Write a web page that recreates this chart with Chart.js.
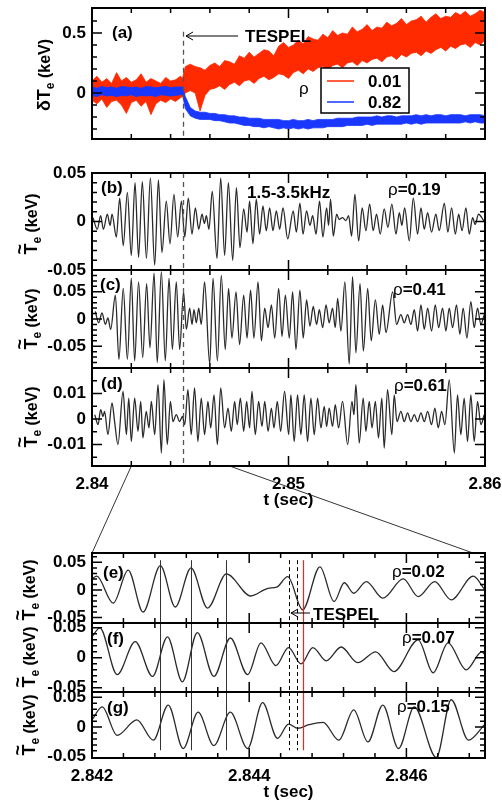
<!DOCTYPE html>
<html>
<head>
<meta charset="utf-8">
<script src="https://cdn.jsdelivr.net/npm/chart.js@4.4.1/dist/chart.umd.min.js"></script>
<style>
  body { margin: 0; background: #fff; }
  #fig { position: relative; width: 502px; height: 805px; overflow: hidden; background: #fff; }
  #fig canvas { position: absolute; left: 0; }
</style>
</head>
<body>
<div id="fig"></div>
<script>
// ---- time bases (ms after 2.840 s for a-d, after 2.842 s for e-g) ----
var aMs = [0,0.25,0.5,0.75,1,1.25,1.5,1.75,2,2.25,2.5,2.75,3,3.25,3.5,3.75,4,4.25,4.5,4.6,4.75,
  5,5.25,5.5,5.75,6,6.25,6.5,6.75,7,7.25,7.5,7.75,8,8.25,8.5,8.75,9,9.25,9.5,9.75,10,10.25,10.5,10.75,
  11,11.25,11.5,11.75,12,12.25,12.5,12.75,13,13.25,13.5,13.75,14,14.25,14.5,14.75,15,15.25,15.5,15.75,
  16,16.25,16.5,16.75,17,17.25,17.5,17.75,18,18.25,18.5,18.75,19,19.25,19.5,19.75,20];

// (a) noise band envelopes, rho = 0.01 (red) and rho = 0.82 (blue)
var redHi = [0.10,0.14,0.09,0.12,0.08,0.17,0.10,0.13,0.09,0.11,0.16,0.09,0.12,0.10,0.08,0.13,0.10,0.11,0.14,0.12,0.22,
  0.24,0.22,0.21,0.19,0.23,0.25,0.22,0.27,0.26,0.24,
  0.31,0.29,0.34,0.30,0.33,0.36,0.35,0.31,0.39,0.42,
  0.38,0.40,0.44,0.41,0.47,0.45,0.44,0.49,0.46,0.52,
  0.48,0.50,0.49,0.55,0.51,0.53,0.57,0.52,0.55,0.54,
  0.59,0.56,0.58,0.62,0.57,0.60,0.61,0.64,0.59,0.63,
  0.66,0.62,0.64,0.63,0.67,0.65,0.68,0.64,0.66,0.69,0.67];
var redLo = [-0.06,-0.09,-0.05,-0.12,-0.07,-0.06,-0.10,-0.17,-0.08,-0.06,-0.11,-0.07,-0.18,-0.09,-0.06,-0.08,-0.05,-0.07,-0.04,-0.03,0.0,
  0.02,0.0,-0.15,-0.02,0.03,0.04,0.06,0.03,0.07,0.09,
  0.06,0.10,0.11,0.08,0.12,0.14,0.11,0.13,0.16,0.15,
  0.12,0.17,0.19,0.16,0.20,0.18,0.21,0.22,0.19,0.23,
  0.24,0.21,0.25,0.26,0.23,0.27,0.25,0.28,0.29,0.26,
  0.30,0.31,0.28,0.32,0.30,0.33,0.34,0.31,0.35,0.33,
  0.36,0.38,0.35,0.39,0.37,0.40,0.41,0.38,0.42,0.40,0.44];
var blueHi = [0.05,0.04,0.055,0.045,0.05,0.04,0.055,0.05,0.045,0.05,0.04,0.055,0.05,0.045,0.05,0.055,0.045,0.05,0.05,0.05,-0.03,
  -0.12,-0.15,-0.16,-0.16,-0.17,-0.17,-0.18,-0.18,-0.19,-0.19,-0.2,-0.2,-0.21,-0.21,-0.21,-0.22,-0.22,-0.22,-0.22,-0.23,
  -0.23,-0.22,-0.23,-0.23,-0.22,-0.23,-0.22,-0.22,-0.22,-0.22,-0.21,-0.21,-0.21,-0.21,-0.2,-0.2,-0.2,-0.2,-0.19,-0.2,
  -0.19,-0.19,-0.2,-0.19,-0.19,-0.19,-0.18,-0.19,-0.18,-0.19,-0.18,-0.18,-0.19,-0.18,-0.18,-0.18,-0.19,-0.18,-0.18,-0.18,-0.19];
var blueLo = [-0.02,-0.03,-0.015,-0.025,-0.02,-0.03,-0.02,-0.025,-0.015,-0.03,-0.02,-0.025,-0.02,-0.03,-0.015,-0.02,-0.025,-0.02,-0.015,-0.01,-0.13,
  -0.19,-0.21,-0.22,-0.22,-0.22,-0.23,-0.23,-0.24,-0.25,-0.25,-0.26,-0.27,-0.27,-0.28,-0.28,-0.29,-0.28,-0.29,-0.30,-0.29,
  -0.30,-0.29,-0.30,-0.29,-0.30,-0.29,-0.29,-0.29,-0.28,-0.28,-0.28,-0.28,-0.27,-0.27,-0.27,-0.27,-0.26,-0.27,-0.26,-0.26,
  -0.26,-0.26,-0.26,-0.26,-0.25,-0.26,-0.25,-0.26,-0.25,-0.25,-0.25,-0.25,-0.25,-0.25,-0.25,-0.25,-0.24,-0.25,-0.24,-0.25,-0.25];
var legendNames = ['0.01', '0.82'];

// (b) rho = 0.19, turning points
var bMs = [0.05,0.27,0.44,0.58,0.78,0.92,1.02,1.24,1.41,1.59,1.80,2.00,2.19,2.37,2.56,2.77,2.97,3.19,3.38,3.56,
  3.78,3.97,4.17,4.36,4.55,4.72,4.90,5.09,5.26,5.43,5.60,5.72,5.82,5.95,6.12,6.36,6.55,6.75,6.94,7.16,
  7.35,7.53,7.72,7.89,8.02,8.19,8.36,8.53,8.70,8.87,9.04,9.21,9.38,9.55,9.72,9.96,10.24,10.40,10.58,10.74,
  10.92,11.09,11.23,11.40,11.58,11.75,11.94,12.04,12.14,12.28,12.45,12.58,12.75,12.92,13.06,13.21,13.38,13.57,13.75,13.94,
  14.13,14.31,14.48,14.67,14.87,15.06,15.26,15.47,15.64,15.77,15.91,16.15,16.35,16.57,16.74,16.91,17.08,17.28,17.50,17.67,
  17.93,18.11,18.30,18.49,18.66,18.83,19.03,19.20,19.37,19.50,19.67,19.96];
var bVal = [0.004,-0.008,0.006,-0.008,0.0075,-0.004,0.0075,-0.016,0.024,-0.025,0.03,-0.035,0.04,-0.037,0.041,-0.038,0.045,-0.045,0.043,-0.032,
  0.021,-0.023,0.028,-0.016,0.021,-0.016,0.024,-0.013,0.014,-0.008,0.0075,-0.002,0.006,-0.008,0.031,-0.038,0.045,-0.035,0.04,-0.04,
  0.035,-0.027,0.013,-0.011,0.021,-0.023,0.023,-0.013,0.016,-0.0095,0.014,-0.0095,0.011,-0.008,0.014,-0.018,0.011,-0.011,0.019,-0.013,
  0.011,-0.004,0.006,-0.013,0.021,-0.016,0.014,-0.004,0.023,-0.015,0.0075,0.002,0.004,0.001,0.006,-0.015,0.028,-0.02,0.014,-0.0095,
  0.018,-0.0095,0.0075,-0.013,0.013,-0.006,0.018,-0.013,0.009,-0.004,0.014,-0.02,0.024,-0.013,0.014,-0.008,0.009,-0.011,0.0075,-0.0095,
  0.019,-0.011,0.014,-0.013,0.0075,-0.0095,0.014,-0.013,0.004,-0.003,0.0075,0.0];

// (c) rho = 0.41
var cMs = [0.17,0.34,0.51,0.68,0.81,0.95,1.19,1.37,1.59,1.80,2.00,2.17,2.37,2.58,2.78,2.95,3.16,3.32,3.53,3.73,
  3.92,4.09,4.29,4.46,4.66,4.80,4.97,5.09,5.19,5.31,5.43,5.56,5.73,5.99,6.16,6.38,6.58,6.78,6.95,7.12,
  7.33,7.51,7.72,7.89,8.07,8.24,8.45,8.62,8.79,8.96,9.13,9.30,9.50,9.67,9.84,10.04,10.21,10.38,10.58,10.75,
  10.92,11.09,11.26,11.43,11.57,11.74,11.91,12.07,12.24,12.38,12.50,12.67,12.87,13.09,13.26,13.43,13.64,13.81,14.03,14.21,
  14.42,14.62,14.79,14.96,15.30,15.50,15.72,15.89,16.06,16.23,16.40,16.57,16.74,16.91,17.08,17.28,17.47,17.64,17.84,18.01,
  18.18,18.35,18.55,18.72,18.89,19.08,19.28,19.45,19.62,19.79,19.96];
var cVal = [0.014,-0.007,0.011,-0.01,0.002,-0.019,0.044,-0.074,0.056,-0.074,0.075,-0.077,0.068,-0.071,0.065,-0.053,0.084,-0.08,0.087,-0.077,
  0.075,-0.056,0.068,-0.056,0.05,-0.019,0.02,-0.01,0.017,-0.007,0.02,-0.01,0.068,-0.083,0.075,-0.077,0.08,-0.056,0.056,-0.035,
  0.05,-0.047,0.044,-0.035,0.053,-0.035,0.068,-0.04,0.02,-0.016,0.026,-0.035,0.056,-0.032,0.044,-0.035,0.05,-0.056,0.053,-0.035,
  0.035,-0.013,0.023,-0.01,0.017,-0.016,0.026,-0.007,0.02,-0.016,0.038,-0.022,0.068,-0.083,0.078,-0.062,0.065,-0.059,0.056,-0.04,
  0.035,-0.028,0.026,-0.025,0.05,-0.01,0.008,-0.007,0.008,-0.01,0.017,-0.022,0.026,-0.019,0.02,-0.022,0.026,-0.016,0.02,-0.022,
  0.02,-0.016,0.026,-0.028,0.02,-0.035,0.032,-0.016,0.02,-0.01,0.008];

// (d) rho = 0.61
var dMs = [0.14,0.31,0.44,0.56,0.64,0.81,1.02,1.15,1.32,1.58,1.75,1.87,2.00,2.17,2.34,2.48,2.59,2.76,2.90,3.02,
  3.19,3.36,3.53,3.66,3.83,3.99,4.12,4.29,4.46,4.60,4.72,4.88,5.05,5.22,5.39,5.56,5.73,5.90,6.04,6.21,
  6.38,6.55,6.75,6.92,7.09,7.26,7.39,7.55,7.72,7.87,8.02,8.14,8.31,8.48,8.65,8.79,8.96,9.13,9.26,9.43,
  9.60,9.80,10.01,10.12,10.29,10.46,10.63,10.80,10.97,11.14,11.31,11.48,11.65,11.82,11.94,12.07,12.24,12.38,12.55,12.75,
  13.01,13.23,13.33,13.43,13.60,13.80,13.94,14.11,14.25,14.42,14.58,14.75,14.87,15.04,15.26,15.38,15.52,15.72,15.89,16.06,
  16.23,16.40,16.57,16.74,16.91,17.08,17.28,17.45,17.62,17.79,17.96,18.18,18.44,18.60,18.77,18.94,19.11,19.28,19.45,19.62,19.79,19.96];
var dVal = [0.0017,-0.0022,0.0037,0.001,0.003,-0.0061,0.0063,-0.001,-0.01,0.0108,-0.0061,0.0082,-0.0088,0.0082,-0.0048,0.0069,-0.0074,0.003,-0.0035,0.0069,
  -0.0061,0.0135,-0.0133,0.0154,-0.01,0.0069,-0.001,0.0017,-0.001,0.001,-0.0022,0.0115,-0.0061,0.0122,-0.0088,0.0082,-0.0061,0.0069,-0.0035,0.0095,
  -0.01,0.0122,-0.0035,0.0043,-0.0048,0.0069,-0.0022,0.0082,-0.0048,0.0069,-0.0035,0.0108,-0.0061,0.0069,-0.0029,0.0069,-0.0048,0.0043,-0.0035,0.0069,
  -0.0048,0.0108,-0.0061,0.0095,-0.0088,0.0095,-0.0061,0.0095,-0.0088,0.0082,-0.0061,0.0082,-0.0035,0.005,-0.0029,0.0043,-0.0029,0.0056,-0.0035,0.0069,
  -0.01,0.0069,0.0017,0.0135,-0.0094,0.0082,-0.0048,0.0069,-0.0035,0.0069,-0.0074,0.0082,-0.0114,0.0115,-0.0061,0.0095,-0.001,0.003,-0.001,0.0024,
  -0.001,0.0017,-0.001,0.0024,-0.001,0.003,-0.0022,0.0043,-0.0035,0.003,-0.0022,0.0153,-0.0133,0.0095,-0.0061,0.0082,-0.0088,0.0095,-0.0088,0.0069,-0.0022,0.0017];

// (e) rho = 0.02, (f) rho = 0.07, (g) rho = 0.15 on the expanded window
var eMs = [0,0.06,0.27,0.46,0.65,0.87,1.06,1.26,1.47,1.71,2.02,2.24,2.35,2.49,2.68,2.90,3.08,3.21,3.33,3.49,3.70,3.96,4.15,4.36,4.57,4.85,5.0];
var eVal = [0.02,0.025,-0.024,0.036,-0.04,0.044,-0.031,0.04,-0.033,0.029,-0.011,0.003,0.005,0.024,-0.036,0.042,-0.021,0.013,-0.006,0.015,-0.015,0.02,-0.012,0.015,-0.018,0.025,0.0];
var fMs = [0,0.1,0.32,0.55,0.77,0.96,1.15,1.34,1.55,1.76,1.98,2.15,2.34,2.50,2.66,2.81,2.98,3.17,3.38,3.61,3.84,4.15,4.34,4.53,4.76,4.96,5.0];
var fVal = [0.035,0.05,-0.028,0.027,-0.031,0.035,-0.04,0.042,-0.031,0.033,-0.028,0.025,-0.013,0.017,-0.01,0.017,-0.005,0.018,-0.008,0.01,-0.023,0.03,-0.025,0.025,-0.02,0.01,0.005];
var gMs = [0,0.13,0.32,0.57,0.78,0.97,1.16,1.35,1.55,1.76,1.98,2.17,2.36,2.50,2.62,2.76,2.94,3.14,3.33,3.51,3.70,3.90,4.10,4.38,4.57,4.79,5.0];
var gVal = [0.012,0.034,-0.014,0.012,-0.022,0.037,-0.036,0.025,-0.031,0.025,-0.036,0.041,-0.019,0.005,-0.002,0.004,0.008,-0.022,0.029,-0.025,0.037,-0.036,0.034,-0.051,0.046,-0.022,0.005];

// ---- axes ----
var longTicks = [2.84,2.842,2.844,2.846,2.848,2.85,2.852,2.854,2.856,2.858,2.86];
var longLabels = [[2.84,'2.84'],[2.85,'2.85'],[2.86,'2.86']];
var zoomTicks = [2.842,2.8424,2.8428,2.8432,2.8436,2.844,2.8444,2.8448,2.8452,2.8456,2.846,2.8464,2.8468];
var zoomLabels = [[2.842,'2.842'],[2.844,'2.844'],[2.846,'2.846']];
var zoomRange = [2.842, 2.847];
var tespelTime = 2.84463;
// event markers on the expanded window
var peakTimes = [2.84287, 2.84326, 2.84371];
var dashTimes = [2.8445, 2.84461];
var redTime = 2.84469;

var FONT = '"Liberation Sans", Arial, Helvetica, sans-serif';
var B17 = 'bold 17px ' + FONT;
var R17 = '17px ' + FONT;

function pts(ms, vals, t0) {
  return ms.map(function (m, i) { return { x: t0 + m / 1000, y: vals[i] }; });
}
function steps(from, to, step) {
  var out = [];
  for (var k = Math.round(from / step); k <= Math.round(to / step); k++) out.push(+(k * step).toFixed(4));
  return out;
}
function labelOf(list, v) {
  if (!list) return '';
  for (var i = 0; i < list.length; i++) if (Math.abs(list[i][0] - v) < 1e-7) return list[i][1];
  return '';
}

function drawParts(ctx, parts, x, y) {
  var cx = x;
  parts.forEach(function (p) {
    ctx.font = p.f;
    ctx.fillText(p.s, cx, y + (p.dy || 0));
    cx += ctx.measureText(p.s).width;
  });
}

// rotated axis title: lead letters, subscript e, then (keV)
function drawYTitle(ctx, t, top) {
  var big = 'bold 18px ' + FONT, sub = 'bold 12px ' + FONT, rest = 'bold 16px ' + FONT;
  ctx.save();
  ctx.translate(t.x, t.y - top);
  ctx.rotate(-Math.PI / 2);
  ctx.fillStyle = '#000';
  ctx.font = big; var w1 = ctx.measureText(t.lead).width;
  ctx.font = sub; var w2 = ctx.measureText('e').width;
  ctx.font = rest; var w3 = ctx.measureText(' (keV)').width;
  var x0 = -(w1 + w2 + w3) / 2;
  ctx.font = big; ctx.fillText(t.lead, x0, 0);
  if (t.tilde) {
    ctx.font = big;
    var wT = ctx.measureText('T').width;
    ctx.textAlign = 'center';
    ctx.fillText('~', x0 + w1 - wT / 2, -11);
    ctx.textAlign = 'left';
  }
  ctx.font = sub; ctx.fillText('e', x0 + w1, 4);
  ctx.font = rest; ctx.fillText(' (keV)', x0 + w1 + w2, 0);
  ctx.restore();
}

function arrowLeft(ctx, x1, x2, y) {
  ctx.beginPath();
  ctx.moveTo(x1, y); ctx.lineTo(x2, y);
  ctx.moveTo(x2 + 7, y - 4); ctx.lineTo(x2, y); ctx.lineTo(x2 + 7, y + 4);
  ctx.stroke();
}

var deco = {
  id: 'deco',
  afterDatasetsDraw: function (chart, args, o) {
    var ctx = chart.ctx, a = chart.chartArea, xs = chart.scales.x, ys = chart.scales.y;
    var top = o.canvasTop;
    ctx.save();

    // vertical markers
    (o.vlines || []).forEach(function (l) {
      var px = Math.round(xs.getPixelForValue(l.t)) + 0.5;
      var y0 = l.from != null ? ys.getPixelForValue(l.from) : a.top;
      var y1 = l.to != null ? ys.getPixelForValue(l.to) : a.bottom;
      ctx.beginPath();
      ctx.setLineDash(l.dash || []);
      ctx.strokeStyle = l.color;
      ctx.lineWidth = l.width || 1;
      ctx.moveTo(px, y0); ctx.lineTo(px, y1);
      ctx.stroke();
    });
    ctx.setLineDash([]);

    // frame with inward ticks on all four sides
    ctx.strokeStyle = '#000';
    ctx.lineWidth = 2;
    ctx.strokeRect(a.left, a.top, a.right - a.left, a.bottom - a.top);
    ctx.lineWidth = 1.5;
    ctx.beginPath();
    o.xTicks.forEach(function (v) {
      var px = xs.getPixelForValue(v);
      if (px < a.left + 2 || px > a.right - 2) return;
      var len = labelOf(o.xLabels, v) ? 10 : 5;
      ctx.moveTo(px, a.bottom); ctx.lineTo(px, a.bottom - len);
      ctx.moveTo(px, a.top); ctx.lineTo(px, a.top + len);
    });
    o.yTicks.forEach(function (v) {
      var py = ys.getPixelForValue(v);
      if (py < a.top + 2 || py > a.bottom - 2) return;
      var len = labelOf(o.yLabels, v) ? 10 : 5;
      ctx.moveTo(a.left, py); ctx.lineTo(a.left + len, py);
      ctx.moveTo(a.right, py); ctx.lineTo(a.right - len, py);
    });
    ctx.stroke();

    // texts
    ctx.fillStyle = '#000';
    ctx.textBaseline = 'alphabetic';
    (o.texts || []).forEach(function (t) { drawParts(ctx, t.parts, t.x, t.y - top); });
    if (o.yTitle) drawYTitle(ctx, o.yTitle, top);

    // arrows
    ctx.strokeStyle = '#000';
    ctx.lineWidth = 1;
    (o.arrows || []).forEach(function (r) { arrowLeft(ctx, r.x1, r.x2, r.y - top); });

    // legend box
    if (o.legend) {
      var L = o.legend, ly = L.y - top;
      ctx.fillStyle = '#fff';
      ctx.fillRect(L.x, ly, L.w, L.h);
      ctx.strokeStyle = '#000';
      ctx.lineWidth = 1.5;
      ctx.strokeRect(L.x, ly, L.w, L.h);
      L.items.forEach(function (it, i) {
        var yy = ly + 13 + i * 21;
        ctx.strokeStyle = it.color;
        ctx.lineWidth = 1.5;
        ctx.beginPath(); ctx.moveTo(L.x + 6, yy); ctx.lineTo(L.x + 33, yy); ctx.stroke();
        ctx.fillStyle = '#000';
        ctx.font = B17;
        ctx.fillText(it.name, L.x + 47, yy + 6);
      });
    }
    ctx.restore();
  }
};

var fig = document.getElementById('fig');
var charts = {};

function makePanel(p) {
  var padTop = p.padTop != null ? p.padTop : 14;
  var axisH = p.showX ? 48 : 0;
  var padBottom = p.showX ? 0 : 14;
  var canvasTop = p.top - padTop;
  var cv = document.createElement('canvas');
  cv.width = 502;
  cv.height = p.bottom - p.top + padTop + axisH + padBottom;
  cv.style.top = canvasTop + 'px';
  fig.appendChild(cv);
  p.canvasTop = canvasTop;

  var tickFont = { family: FONT, size: 17, weight: 'bold' };
  charts[p.key] = new Chart(cv.getContext('2d'), {
    type: 'line',
    data: { datasets: p.datasets },
    options: {
      responsive: false,
      animation: false,
      events: [],
      layout: { padding: { top: padTop, left: 0, right: 17, bottom: padBottom } },
      elements: { point: { radius: 0 } },
      plugins: { legend: { display: false }, tooltip: { enabled: false }, deco: p },
      scales: {
        x: {
          type: 'linear', min: p.xRange[0], max: p.xRange[1], bounds: 'data',
          display: !!p.showX,
          grid: { display: false, drawTicks: false }, border: { display: false },
          ticks: { autoSkip: false, maxRotation: 0, padding: 8, color: '#000', font: tickFont,
            callback: function (v) { return labelOf(p.xLabels, v); } },
          title: { display: true, text: 't (sec)', color: '#000', font: tickFont, padding: { top: 0, bottom: 3 } },
          afterBuildTicks: function (s) { s.ticks = p.xTicks.map(function (v) { return { value: v }; }); },
          afterFit: function (s) { s.height = axisH; s.paddingLeft = 0; s.paddingRight = 0; }
        },
        y: {
          type: 'linear', position: 'left', min: p.yRange[0], max: p.yRange[1], bounds: 'data',
          grid: { display: false, drawTicks: false }, border: { display: false },
          ticks: { autoSkip: false, padding: 6, color: '#000', font: tickFont,
            callback: function (v) { return labelOf(p.yLabels, v); } },
          afterBuildTicks: function (s) { s.ticks = p.yTicks.map(function (v) { return { value: v }; }); },
          afterFit: function (s) { s.width = 92; s.paddingTop = 0; s.paddingBottom = 0; }
        }
      }
    },
    plugins: [deco]
  });
}

function trace(ms, vals, t0) {
  return { data: pts(ms, vals, t0), borderColor: '#2a2a2a', borderWidth: 1.3, fill: false,
    cubicInterpolationMode: 'monotone' };
}
function band(vals, color, fill) {
  return { data: pts(aMs, vals, 2.84), borderColor: color, backgroundColor: color, borderWidth: 0.8,
    tension: 0, fill: fill };
}
function rho(val, x, y) {
  return { parts: [{ s: '\u03c1', f: R17 }, { s: '=' + val, f: B17 }], x: x, y: y };
}
function tag(s, x, y) { return { parts: [{ s: s, f: B17 }], x: x, y: y }; }

var tespelLine = { t: tespelTime, color: '#555', dash: [5, 4], width: 1.3 };
var RED = 'rgb(255,42,0)', BLUE = 'rgb(25,55,255)';

var longY = { xRange: [2.84, 2.86], xTicks: longTicks, xLabels: longLabels };
var zoomY = { xRange: zoomRange, xTicks: zoomTicks, xLabels: zoomLabels };

function extend(base, extra) { var o = {}; for (var k in base) o[k] = base[k]; for (var k2 in extra) o[k2] = extra[k2]; return o; }

makePanel(extend(longY, {
  key: 'a', top: 8, bottom: 139, padTop: 8, yRange: [-0.383, 0.708],
  yTicks: steps(-0.3, 0.6, 0.1), yLabels: [[0, '0'], [0.5, '0.5']],
  datasets: [band(blueHi, BLUE, false), band(blueLo, BLUE, '-1'), band(redHi, RED, false), band(redLo, RED, '-1')],
  vlines: [{ t: tespelTime, color: '#555', dash: [5, 4], width: 1.3, from: 0.51 }],
  texts: [tag('(a)', 112, 38), tag('TESPEL', 245, 42), { parts: [{ s: '\u03c1', f: R17 }], x: 299, y: 94 }],
  arrows: [{ x1: 238, x2: 186, y: 36 }],
  legend: { x: 321, y: 68, w: 88, h: 45, items: [{ name: legendNames[0], color: RED }, { name: legendNames[1], color: BLUE }] },
  yTitle: { lead: '\u03b4T', tilde: false, x: 50, y: 75 }
}));

makePanel(extend(longY, {
  key: 'b', top: 173, bottom: 270, yRange: [-0.05, 0.05],
  yTicks: steps(-0.05, 0.05, 0.01), yLabels: [[-0.05, '-0.05'], [0, '0'], [0.05, '0.05']],
  datasets: [trace(bMs, bVal, 2.84)],
  vlines: [tespelLine],
  texts: [tag('(b)', 101, 193), tag('1.5-3.5kHz', 247, 198), rho('0.19', 388, 195)],
  yTitle: { lead: 'T', tilde: true, x: 37, y: 224 }
}));

makePanel(extend(longY, {
  key: 'c', top: 270, bottom: 368, yRange: [-0.09, 0.09],
  yTicks: steps(-0.08, 0.08, 0.01), yLabels: [[-0.05, '-0.05'], [0, '0'], [0.05, '0.05']],
  datasets: [trace(cMs, cVal, 2.84)],
  vlines: [tespelLine],
  texts: [tag('(c)', 100, 290), rho('0.41', 393, 295)],
  yTitle: { lead: 'T', tilde: true, x: 37, y: 319 }
}));

makePanel(extend(longY, {
  key: 'd', top: 368, bottom: 466, showX: true, yRange: [-0.0184, 0.02],
  yTicks: steps(-0.015, 0.015, 0.005), yLabels: [[-0.01, '-0.01'], [0, '0'], [0.01, '0.01']],
  datasets: [trace(dMs, dVal, 2.84)],
  vlines: [tespelLine],
  texts: [tag('(d)', 101, 389), rho('0.61', 394, 391)],
  yTitle: { lead: 'T', tilde: true, x: 37, y: 417 }
}));

var fgLines = function (top, bottom) {
  var out = peakTimes.map(function (t) { return { t: t, color: '#333', width: 1, from: top, to: bottom }; });
  dashTimes.forEach(function (t) { out.push({ t: t, color: '#000', dash: [4, 3], width: 1, from: top, to: bottom }); });
  out.push({ t: redTime, color: 'rgb(235,40,20)', width: 1.2, from: top, to: bottom });
  return out;
};

makePanel(extend(zoomY, {
  key: 'e', top: 553, bottom: 623, yRange: [-0.06, 0.067],
  yTicks: steps(-0.05, 0.06, 0.01), yLabels: [[-0.05, '-0.05'], [0, '0'], [0.05, '0.05']],
  datasets: [trace(eMs, eVal, 2.842)],
  vlines: fgLines(0.054, null),
  texts: [tag('(e)', 103, 578), rho('0.02', 392, 577), tag('TESPEL', 313, 620)],
  arrows: [{ x1: 310, x2: 291, y: 613 }],
  yTitle: { lead: 'T', tilde: true, x: 35, y: 590 }
}));

makePanel(extend(zoomY, {
  key: 'f', top: 623, bottom: 692, yRange: [-0.057, 0.058],
  yTicks: steps(-0.05, 0.05, 0.01), yLabels: [[-0.05, '-0.05'], [0, '0'], [0.05, '0.05']],
  datasets: [trace(fMs, fVal, 2.842)],
  vlines: fgLines(null, null),
  texts: [tag('(f)', 107, 644), rho('0.07', 402, 643)],
  yTitle: { lead: 'T', tilde: true, x: 35, y: 657 }
}));

makePanel(extend(zoomY, {
  key: 'g', top: 692, bottom: 758, showX: true, yRange: [-0.052, 0.059],
  yTicks: steps(-0.05, 0.05, 0.01), yLabels: [[-0.05, '-0.05'], [0, '0'], [0.05, '0.05']],
  datasets: [trace(gMs, gVal, 2.842)],
  vlines: fgLines(null, -0.039),
  texts: [tag('(g)', 107, 713), rho('0.15', 397, 712)],
  yTitle: { lead: 'T', tilde: true, x: 35, y: 725 }
}));

// connectors from the expanded window on (d) to panel (e)
(function () {
  var cv = document.createElement('canvas');
  cv.width = 502; cv.height = 805; cv.style.top = '0px';
  fig.appendChild(cv);
  var ctx = cv.getContext('2d');
  var d = charts.d, e = charts.e;
  var dTop = d.options.plugins.deco.canvasTop, eTop = e.options.plugins.deco.canvasTop;
  var yFrom = dTop + d.chartArea.bottom, yTo = eTop + e.chartArea.top;
  ctx.strokeStyle = '#000';
  ctx.lineWidth = 0.8;
  ctx.beginPath();
  ctx.moveTo(d.scales.x.getPixelForValue(zoomRange[0]), yFrom);
  ctx.lineTo(e.scales.x.getPixelForValue(zoomRange[0]), yTo);
  ctx.moveTo(d.scales.x.getPixelForValue(zoomRange[1]), yFrom);
  ctx.lineTo(e.scales.x.getPixelForValue(zoomRange[1]) - 12, yTo);
  ctx.stroke();
})();
</script>
</body>
</html>
